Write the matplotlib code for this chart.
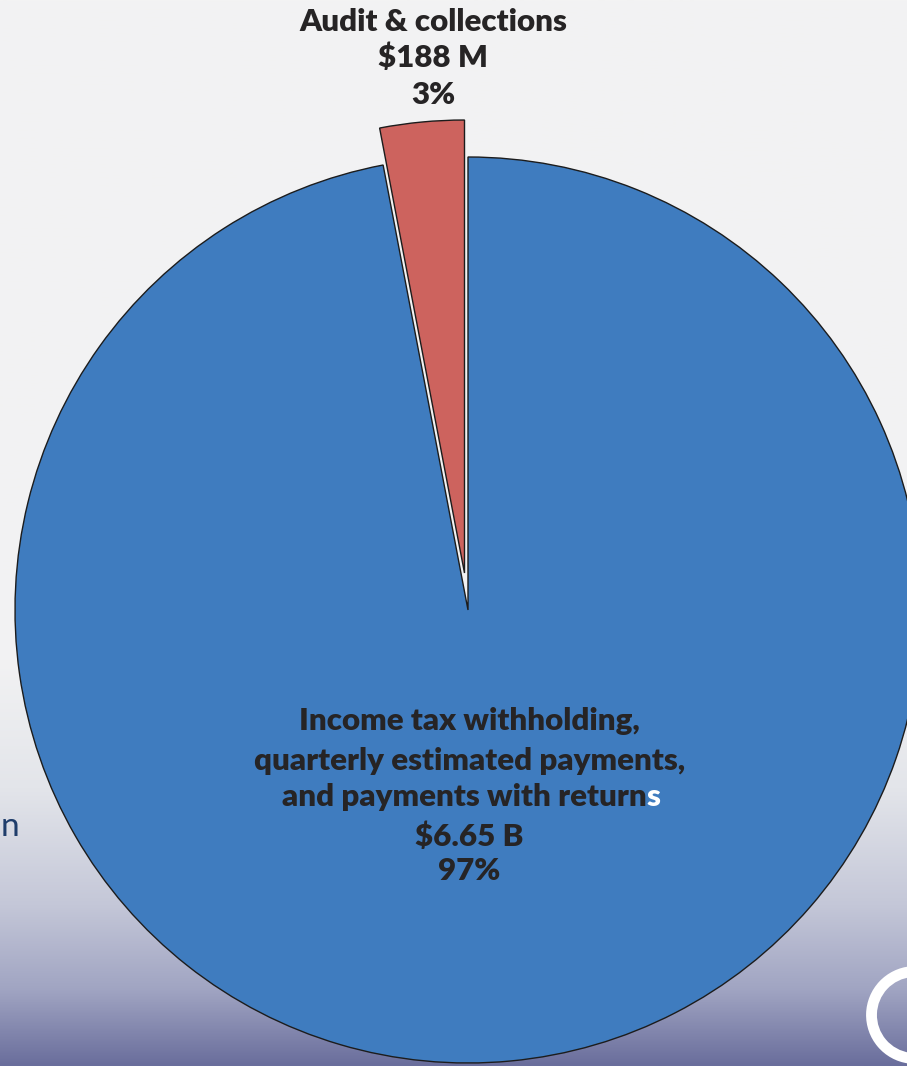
import numpy as np
import matplotlib
matplotlib.use('Agg')
import matplotlib.pyplot as plt
from matplotlib.colors import to_rgb
from matplotlib.patches import Wedge

### Data ###
categories = ['Income tax withholding,\nquarterly estimated payments,\nand payments with returns',
              'Audit & collections']
shares = [97, 3]
amounts = ['$6.65 B', '$188 M']
colors = ['#3f7cbf', '#cd635e']
##################################

W, H = 907, 1066
fig = plt.figure(figsize=(W / 100, H / 100), dpi=100)

# background gradient (light grey at top, slate blue at bottom)
bg = fig.add_axes([0, 0, 1, 1])
bg.axis('off')
stops_y = [0.0, 0.62, 0.74, 0.85, 0.93, 1.0]
stops_c = ['#f3f3f3', '#f2f2f3', '#e3e5ea', '#c4c7d8', '#a0a4c2', '#6a6e9c']
yy = np.linspace(0, 1, 400)
rgb = np.array([to_rgb(c) for c in stops_c])
grad = np.stack([np.interp(yy, stops_y, rgb[:, k]) for k in range(3)], axis=-1)
bg.imshow(grad[:, None, :], aspect='auto', extent=[0, 1, 0, 1], origin='upper')
bg.set_xlim(0, 1)
bg.set_ylim(0, 1)

# pie axes: centre at pixel (468, 610), radius 453 px
cx, cy, r = 468, H - 610, 453
ax = fig.add_axes([0, 0, 1, 1])
ax.set_facecolor('none')
ax.pie(shares, colors=colors, startangle=90, counterclock=False,
       explode=[0, 0.082], radius=1,
       wedgeprops=dict(edgecolor='#1c1c1c', linewidth=1.0))
ax.set_aspect('auto')
ax.set_xlim(-cx / r, (W - cx) / r)
ax.set_ylim(-cy / r, (H - cy) / r)
ax.axis('off')

fam = ['Lato', 'DejaVu Sans']
fs = 22.5
font = dict(family=fam, fontweight='heavy', fontsize=fs,
            color='#262425', ha='center', va='center')

# small slice label above the pie
top_lines = [categories[1], amounts[1], f'{shares[1]}%']
for txt, y in zip(top_lines, [1.298, 1.219, 1.137]):
    ax.text(-0.077, y, txt, **font)

# big slice label inside the pie
big_lines = categories[0].split('\n') + [amounts[0], f'{shares[0]}%']
ys = [-0.246, -0.334, -0.412, -0.500, -0.577]
for i, (txt, y) in enumerate(zip(big_lines, ys)):
    if i == 2:
        # last letter of "returns" is white in the original
        t = ax.text(0.003 - 0.012, y, txt[:-1], **font)
        ax.annotate(txt[-1], xy=(1, 0), xycoords=t, ha='left', va='bottom',
                    family=fam, fontweight='heavy', fontsize=fs,
                    color='white')
    else:
        ax.text(0.003, y, txt, **font)

# text fragment at the left edge
ax.text((1 - cx) / r, -0.478, 'n', family=fam,
        fontsize=24, color='#1f3d6b', ha='left', va='center')

# logo fragment at bottom right
ax.add_patch(Wedge(((915 - cx) / r, (H - 1015 - cy) / r), 0.108, 95, 262,
                   width=0.024, facecolor='white', edgecolor='none'))

fig.savefig('out.png', dpi=100)
